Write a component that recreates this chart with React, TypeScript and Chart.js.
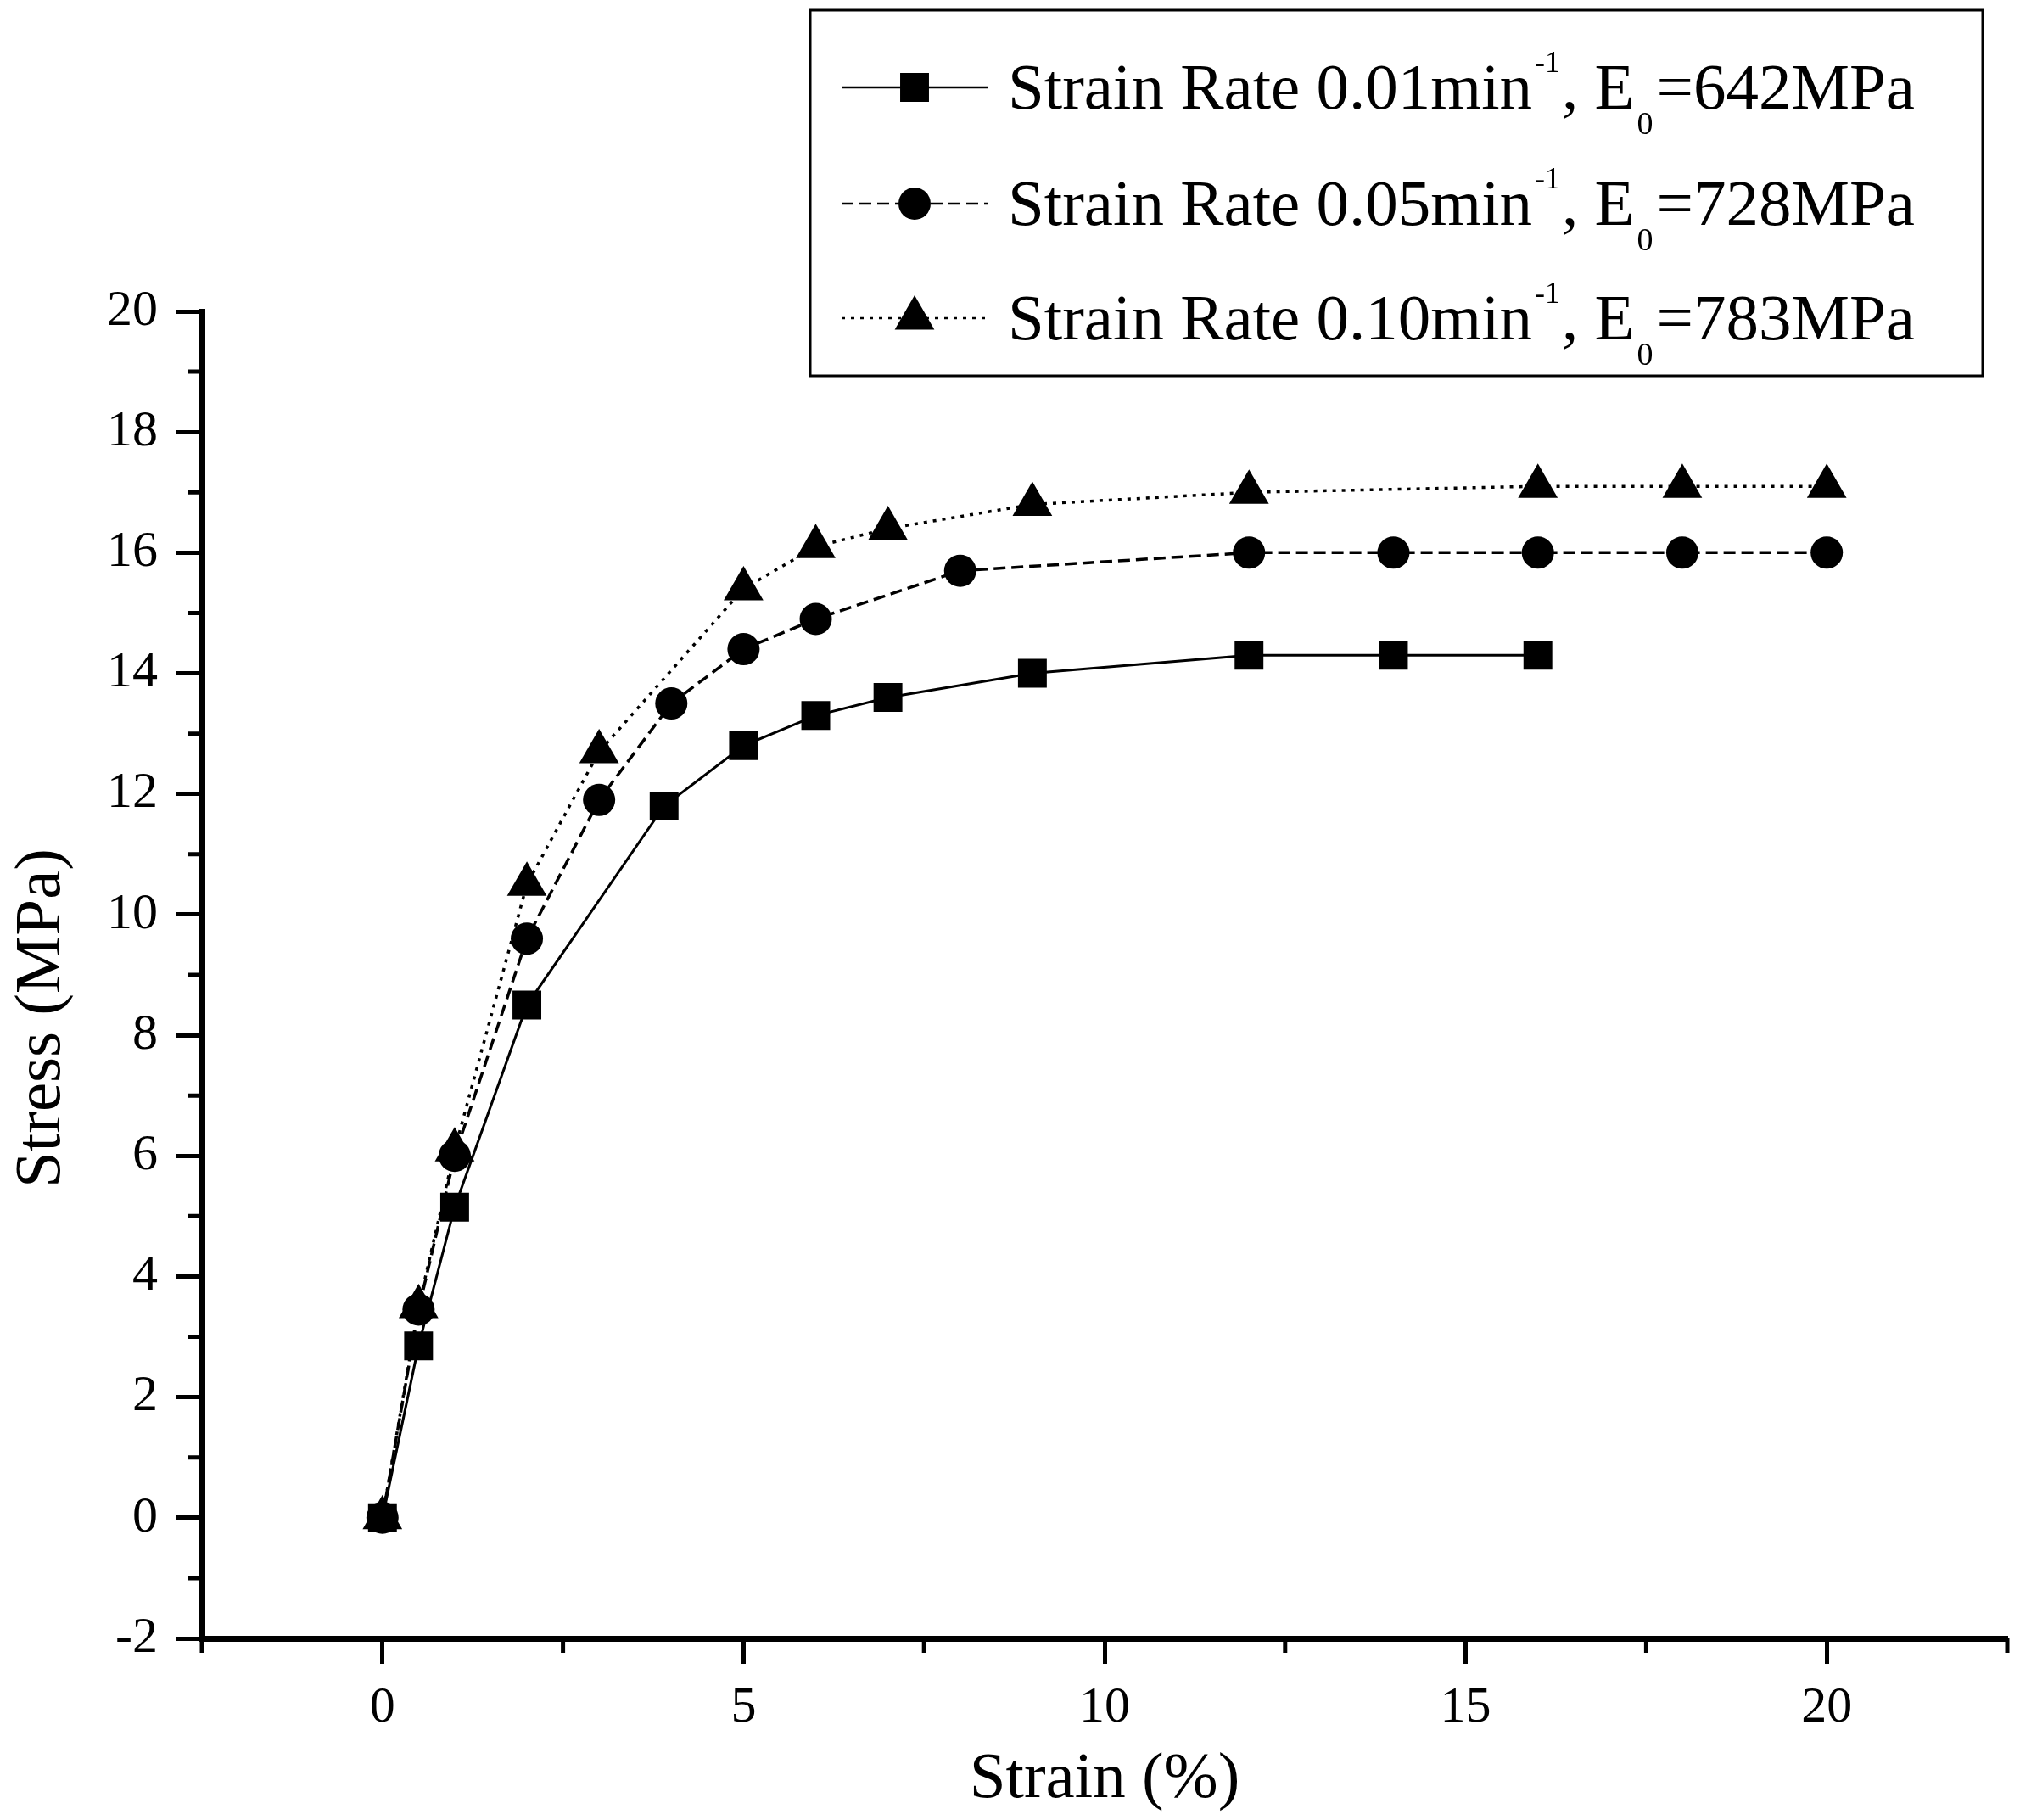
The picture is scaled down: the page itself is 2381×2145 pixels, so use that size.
import React, { useEffect, useRef } from "react";
import { Chart, ChartConfiguration, Plugin, registerables } from "chart.js";
import { drawPoint } from "chart.js/helpers";

// strain (%) / stress (MPa)
const strainSlow = [0, 0.5, 1, 2, 3.9, 5, 6, 7, 9, 12, 14, 16];
const stressSlow = [0, 2.85, 5.15, 8.5, 11.8, 12.8, 13.3, 13.6, 14.0, 14.3, 14.3, 14.3];

const strainMid = [0, 0.5, 1, 2, 3, 4, 5, 6, 8, 12, 14, 16, 18, 20];
const stressMid = [0, 3.45, 6.0, 9.6, 11.9, 13.5, 14.4, 14.9, 15.7, 16.0, 16.0, 16.0, 16.0, 16.0];

const strainFast = [0, 0.5, 1, 2, 3, 5, 6, 7, 9, 12, 16, 18, 20];
const stressFast = [0, 3.5, 6.1, 10.5, 12.7, 15.4, 16.1, 16.4, 16.8, 17.0, 17.1, 17.1, 17.1];

const xTicks = [0, 5, 10, 15, 20];
const xMinorTicks = [-2.5, 2.5, 7.5, 12.5, 17.5, 22.5];
const yTicks = [-2, 0, 2, 4, 6, 8, 10, 12, 14, 16, 18, 20];
const yMinorTicks = [-1, 1, 3, 5, 7, 9, 11, 13, 15, 17, 19];

const legendRates = ["0.01", "0.05", "0.10"];
const legendModuli = ["642", "728", "783"];

const W = 2381;
const H = 2145;
const SERIF = '"Liberation Serif", "Times New Roman", serif';

const toPoints = (xs: number[], ys: number[]) => xs.map((x, i) => ({ x, y: ys[i] }));

const styles = [
	{ pointStyle: "rect", radius: 24, dash: [] as number[] },
	{ pointStyle: "circle", radius: 19, dash: [14, 7] },
	{ pointStyle: "triangle", radius: 27, dash: [4, 7] },
];

const decorPlugin: Plugin = {
	id: "decor",
	afterDraw(chart) {
		const ctx = chart.ctx;
		const { left, bottom } = chart.chartArea;
		const xs = chart.scales.x;
		const ys = chart.scales.y;
		ctx.save();
		ctx.strokeStyle = "#000";
		ctx.fillStyle = "#000";

		// minor ticks
		ctx.lineWidth = 5;
		ctx.beginPath();
		xMinorTicks.forEach((v) => {
			const px = xs.getPixelForValue(v);
			ctx.moveTo(px, bottom);
			ctx.lineTo(px, bottom + 17);
		});
		yMinorTicks.forEach((v) => {
			const py = ys.getPixelForValue(v);
			ctx.moveTo(left, py);
			ctx.lineTo(left - 16, py);
		});
		ctx.stroke();

		// axis titles
		ctx.font = `77px ${SERIF}`;
		ctx.textAlign = "center";
		ctx.textBaseline = "alphabetic";
		ctx.fillText("Strain (%)", (chart.chartArea.left + chart.chartArea.right) / 2, 2118);
		ctx.save();
		ctx.translate(70, 1200);
		ctx.rotate(-Math.PI / 2);
		ctx.fillText("Stress (MPa)", 0, 0);
		ctx.restore();

		// legend box
		ctx.lineWidth = 3;
		ctx.strokeRect(955, 12, 2337 - 955, 443 - 12);

		const baselines = [128, 265, 400];
		baselines.forEach((base, i) => {
			const st = styles[i];
			const ly = base - 25;
			ctx.lineWidth = 2.5;
			ctx.setLineDash(st.dash);
			ctx.beginPath();
			ctx.moveTo(992, ly);
			ctx.lineTo(1165, ly);
			ctx.stroke();
			ctx.setLineDash([]);
			drawPoint(ctx, { pointStyle: st.pointStyle as any, radius: st.radius, rotation: 0, borderWidth: 0 }, 1078, ly);

			ctx.textAlign = "left";
			const parts = [
				{ text: `Strain Rate ${legendRates[i]}min`, size: 77, dy: 0, gap: 3 },
				{ text: "-1", size: 36, dy: -43, gap: 2 },
				{ text: ", E", size: 77, dy: 0, gap: 3 },
				{ text: "0", size: 38, dy: 30, gap: 4 },
				{ text: `=${legendModuli[i]}MPa`, size: 77, dy: 0, gap: 0 },
			];
			let x = 1188;
			parts.forEach((p) => {
				ctx.font = `${p.size}px ${SERIF}`;
				ctx.fillText(p.text, x, base + p.dy);
				x += ctx.measureText(p.text).width + p.gap;
			});
		});
		ctx.restore();
	},
};

const StressStrainChart: React.FC = () => {
	const chartRef = useRef<HTMLCanvasElement | null>(null);
	const chart = useRef<Chart | null>(null);

	useEffect(() => {
		document.body.style.margin = "0";
		if (chartRef.current) {
			const ctx = chartRef.current.getContext("2d");
			if (ctx) {
				Chart.register(...registerables);
				const series = [
					toPoints(strainSlow, stressSlow),
					toPoints(strainMid, stressMid),
					toPoints(strainFast, stressFast),
				];
				const labels = legendRates.map((r) => `Strain Rate ${r}min-1`);

				const tickFont = { family: SERIF, size: 60 };
				const gridOpts = {
					display: true,
					drawOnChartArea: false,
					drawTicks: true,
					tickLength: 30,
					tickWidth: 5,
					tickColor: "#000",
				};
				const borderOpts = { display: true, width: 7, color: "#000" };

				// keep the plot area where the figure has it
				const noPad = (s: any) => {
					s.paddingLeft = 0;
					s.paddingRight = 0;
					s.paddingTop = 0;
					s.paddingBottom = 0;
				};

				const config = {
					type: "scatter",
					data: {
						datasets: series.map((data, i) => ({
							label: labels[i],
							data,
							showLine: true,
							borderColor: "#000",
							borderWidth: i === 0 ? 3 : 3.5,
							borderDash: styles[i].dash,
							pointStyle: styles[i].pointStyle,
							pointRadius: styles[i].radius,
							pointBackgroundColor: "#000",
							pointBorderWidth: 0,
							tension: 0,
						})),
					},
					options: {
						animation: false,
						responsive: false,
						layout: { autoPadding: false, padding: { top: 367, right: 15, left: 0, bottom: 0 } },
						plugins: {
							legend: { display: false },
							tooltip: { enabled: false },
						},
						scales: {
							x: {
								type: "linear",
								min: -2.5,
								max: 22.5,
								afterBuildTicks: (s: any) => {
									s.ticks = xTicks.map((value) => ({ value }));
								},
								afterFit: (s: any) => {
									s.height = 214;
									noPad(s);
								},
								grid: gridOpts,
								border: borderOpts,
								ticks: {
									font: tickFont,
									color: "#000",
									padding: 16,
									maxRotation: 0,
									autoSkip: false,
									callback: (v: any) => String(v),
								},
							},
							y: {
								type: "linear",
								min: -2,
								max: 20,
								afterBuildTicks: (s: any) => {
									s.ticks = yTicks.map((value) => ({ value }));
								},
								afterFit: (s: any) => {
									s.width = 238;
									noPad(s);
								},
								grid: gridOpts,
								border: borderOpts,
								ticks: {
									font: tickFont,
									color: "#000",
									padding: 22,
									autoSkip: false,
									callback: (v: any) => String(v),
								},
							},
						},
					},
					plugins: [decorPlugin],
				} as ChartConfiguration;

				chart.current = new Chart(ctx, config);
			}
		}

		return () => {
			if (chart.current) {
				chart.current.destroy();
				chart.current = null;
			}
		};
	}, []);

	return (
		<div style={{ width: W, height: H, background: "#fff" }}>
			<canvas ref={chartRef} width={W} height={H} style={{ display: "block", width: W, height: H }} />
		</div>
	);
};

export default function App() {
	return <StressStrainChart />;
}
